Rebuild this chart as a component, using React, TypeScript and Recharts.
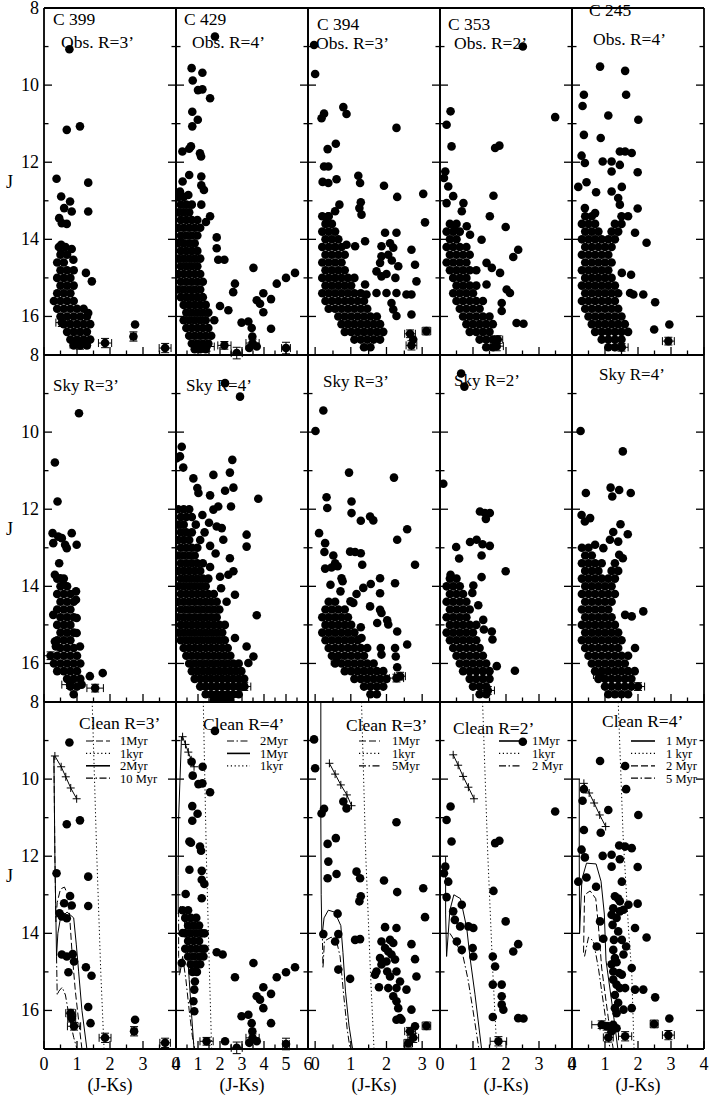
import React from 'react';
import { ScatterChart, Scatter, XAxis, YAxis, ErrorBar } from 'recharts';

type Pt = [number, number]; // [J-Ks, J]
type Row = [number, number[]]; // [J, list of J-Ks]
type ErrPt = [number, number, number, number]; // [J-Ks, J, err(J-Ks), err(J)]

const FONT = '"Liberation Serif", "Times New Roman", Times, serif';

// ---------------- axes ----------------
const jTicks = [8, 9, 10, 11, 12, 13, 14, 15, 16, 17];
const jTickLabels = [8, 10, 12, 14, 16];
const xTicksA = [0, 0.5, 1, 1.5, 2, 2.5, 3, 3.5, 4];
const xTicksB = [0, 0.5, 1, 1.5, 2, 2.5, 3, 3.5, 4, 4.5, 5, 5.5, 6];
const xTicksC = [0, 0.5, 1, 1.5, 2, 2.5, 3, 3.5];
const xLabelsA = [0, 1, 2, 3, 4];
const xLabelsB = [0, 1, 2, 3, 4, 5, 6];
const xLabelsC = [0, 1, 2, 3];
const xDomainA: [number, number] = [0, 4];
const xDomainB: [number, number] = [0, 6];
const xDomainC: [number, number] = [-0.2, 3.5];

// ---------------- row 1 : observed ----------------
const c399ObsPts: Pt[] = [[0.77,9.07],[0.69,11.16],[1.09,11.07],[0.38,12.43],[1.34,12.53],[0.52,12.89],[0.79,13.02],[0.61,13.19],[0.84,13.28],[1.34,13.28],[0.46,13.45],[0.54,13.58],[0.69,13.6],[0.52,14.14],[0.52,14.36],[0.84,14.25],[0.89,14.53],[1.27,14.87],[1.45,15.09],[1.34,15.91],[2.76,16.21]];
const c399ObsRows: Row[] = [[14.2,[0.45,0.65]],[14.4,[0.5,0.7]],[14.6,[0.4,0.6]],[14.8,[0.5,0.7,0.9]],[15.0,[0.4,0.6,0.8]],[15.2,[0.5,0.7,0.9]],[15.4,[0.4,0.6,0.8]],[15.6,[0.3,0.5,0.7,0.9]],[15.8,[0.4,0.6,0.8,1.0,1.2]],[16.0,[0.5,0.7,0.9,1.1,1.3]],[16.2,[0.6,0.8,1.0,1.2,1.4]],[16.4,[0.7,0.9,1.1,1.3]],[16.6,[0.8,1.0,1.2,1.4]],[16.75,[0.9,1.1,1.3]]];
const c399ObsErr: ErrPt[] = [[1.09,16.73,0.3,0.12],[1.85,16.69,0.2,0.12],[3.67,16.82,0.18,0.12],[0.54,16.16,0.18,0.1],[2.71,16.52,0.08,0.12]];

const c429ObsPts: Pt[] = [[1.77,8.74],[0.71,9.56],[1.2,9.68],[0.76,9.88],[1.2,10.11],[1.0,10.13],[1.55,10.34],[0.74,10.69],[0.99,10.9],[0.74,11.07],[0.29,11.72],[0.68,11.59],[0.6,11.65],[1.09,11.77],[1.14,11.85],[0.3,12.5],[0.6,12.33],[1.15,12.37],[1.15,12.6],[1.27,12.72],[0.18,12.76],[0.56,12.85],[1.15,13.1],[1.55,13.4],[1.36,13.55],[1.85,13.95],[1.85,14.23],[1.92,14.53],[2.2,14.53],[3.52,14.74],[5.41,14.87],[5.0,15.0],[4.58,15.15],[2.68,15.15],[2.6,15.37],[3.97,15.4],[3.67,15.58],[3.82,15.67],[4.32,15.55],[3.97,15.89],[2.0,15.73],[2.38,15.84],[2.98,16.16],[3.29,16.13],[3.44,16.3],[4.32,16.32],[1.74,16.1],[3.47,16.52],[3.67,16.78],[3.33,16.82]];
const c429ObsRows: Row[] = [[12.9,[0.1,0.35]],[13.1,[0.22,0.47,0.72]],[13.3,[0.1,0.35,0.6]],[13.5,[0.22,0.47,0.72,0.97]],[13.7,[0.1,0.35,0.6,0.85,1.1]],[13.9,[0.22,0.47,0.72,0.97]],[14.1,[0.1,0.35,0.6,0.85]],[14.3,[0.22,0.47,0.72,0.97]],[14.5,[0.1,0.35,0.6,0.85,1.1]],[14.7,[0.22,0.47,0.72,0.97]],[14.9,[0.1,0.35,0.6,0.85,1.1]],[15.1,[0.22,0.47,0.72,0.97,1.22]],[15.3,[0.1,0.35,0.6,0.85,1.1]],[15.5,[0.22,0.47,0.72,0.97,1.22]],[15.7,[0.35,0.6,0.85,1.1,1.35]],[15.9,[0.47,0.72,0.97,1.22,1.47]],[16.1,[0.35,0.6,0.85,1.1,1.35]],[16.3,[0.47,0.72,0.97,1.22,1.47]],[16.5,[0.6,0.85,1.1,1.35,1.6]],[16.7,[0.72,0.97,1.22,1.47]],[16.85,[0.85,1.1,1.35]]];
const c429ObsErr: ErrPt[] = [[2.76,16.95,0.25,0.15],[5.0,16.82,0.2,0.15],[3.48,16.69,0.3,0.1],[1.39,16.78,0.35,0.12],[2.2,16.75,0.3,0.1]];

const c394ObsPts: Pt[] = [[-0.03,8.96],[0.0,9.71],[0.18,10.86],[0.25,10.74],[0.79,10.57],[0.88,10.75],[2.28,11.11],[0.58,11.52],[0.35,11.66],[0.25,12.11],[0.37,12.11],[0.21,12.51],[0.37,12.54],[0.6,12.44],[1.21,12.35],[1.26,12.54],[1.93,12.61],[2.3,12.9],[3.03,12.82],[3.08,13.56],[1.28,13.04],[1.24,13.19],[1.3,13.36],[0.68,13.1],[0.56,13.27],[0.37,13.4],[0.32,13.58],[1.96,13.83],[2.28,13.83],[2.1,14.1],[2.19,14.22],[1.86,14.18],[2.7,14.27],[2.8,14.66],[2.84,15.09],[1.82,14.61],[1.86,14.44],[2.33,14.7],[1.72,14.83],[1.86,14.96],[1.4,15.17],[1.44,15.43],[1.72,15.39],[2.0,15.39],[2.28,15.39],[2.56,15.43],[2.7,15.43],[2.14,15.65],[2.19,15.82],[2.28,15.99],[2.7,15.95],[0.88,14.14],[1.12,14.18],[1.4,14.05],[2.75,16.6],[2.05,14.4],[2.15,14.55],[2.0,14.9],[2.25,15.0]];
const c394ObsRows: Row[] = [[13.4,[0.2,0.38]],[13.6,[0.29,0.47]],[13.8,[0.2,0.38,0.56]],[14.0,[0.29,0.47,0.65]],[14.2,[0.2,0.38,0.56,0.74]],[14.4,[0.29,0.47,0.65,0.83]],[14.6,[0.2,0.38,0.56,0.74]],[14.8,[0.29,0.47,0.65,0.83]],[15.0,[0.2,0.38,0.56,0.74,0.92,1.1]],[15.2,[0.29,0.47,0.65,0.83,1.01]],[15.4,[0.2,0.38,0.56,0.74,0.92,1.1,1.28]],[15.6,[0.29,0.47,0.65,0.83,1.01,1.19,1.37]],[15.8,[0.38,0.56,0.74,0.92,1.1,1.28,1.46]],[16.0,[0.65,0.83,1.01,1.19,1.37,1.55,1.73]],[16.2,[0.74,0.92,1.1,1.28,1.46,1.64,1.82]],[16.4,[0.83,1.01,1.19,1.37,1.55,1.73,1.91]],[16.6,[1.1,1.28,1.46,1.64,1.82]],[16.8,[1.37,1.55]]];
const c394ObsErr: ErrPt[] = [[2.7,16.75,0.15,0.12],[2.66,16.45,0.15,0.1],[3.12,16.38,0.12,0.1]];

const c353ObsPts: Pt[] = [[2.51,9.0],[3.49,10.83],[0.32,10.68],[0.2,11.03],[0.35,11.59],[1.67,11.63],[1.8,11.57],[0.16,12.24],[0.12,12.41],[0.25,12.63],[0.4,12.88],[0.2,13.06],[0.71,13.06],[0.66,13.27],[1.62,12.87],[1.51,13.4],[1.99,13.68],[0.45,13.75],[0.81,13.66],[0.91,13.88],[1.26,14.01],[2.37,14.27],[2.22,14.46],[1.41,14.61],[1.57,14.74],[1.82,14.87],[1.41,15.17],[2.02,15.3],[2.12,15.39],[1.87,15.65],[1.87,15.86],[2.32,16.17],[2.53,16.19]];
const c353ObsRows: Row[] = [[13.6,[0.3,0.5]],[13.8,[0.2,0.4,0.6]],[14.0,[0.3,0.5]],[14.2,[0.2,0.4,0.6,0.8]],[14.4,[0.3,0.5,0.7,0.9]],[14.6,[0.2,0.4,0.6,0.8]],[14.8,[0.3,0.5,0.7,0.9,1.1]],[15.0,[0.4,0.6,0.8]],[15.2,[0.5,0.7,0.9,1.1]],[15.4,[0.4,0.6,0.8,1.0]],[15.6,[0.5,0.7,0.9,1.1,1.3]],[15.8,[0.6,0.8,1.0,1.2]],[16.0,[0.7,0.9,1.1,1.3,1.5]],[16.2,[0.8,1.0,1.2,1.4,1.6]],[16.4,[0.9,1.1,1.3,1.5]],[16.6,[1.2,1.4,1.6]],[16.8,[1.4,1.6]]];
const c353ObsErr: ErrPt[] = [[1.72,16.77,0.2,0.12],[1.75,16.6,0.15,0.1]];

const c245ObsPts: Pt[] = [[0.85,9.52],[1.61,9.63],[0.36,10.25],[1.64,10.25],[0.32,10.54],[1.1,10.79],[2.01,10.9],[0.36,11.29],[0.87,11.37],[0.29,11.83],[0.39,12.02],[0.93,11.98],[1.2,11.98],[1.45,12.07],[1.45,11.72],[1.61,11.72],[1.81,11.76],[1.2,12.24],[1.99,12.26],[0.19,12.64],[0.44,12.52],[0.73,12.78],[1.2,12.76],[1.51,12.64],[1.4,12.93],[1.45,13.1],[1.99,13.2],[0.39,13.19],[0.7,13.32],[1.91,13.83],[2.26,14.09],[2.52,15.63],[2.49,16.34],[2.95,16.21],[2.16,15.43],[1.76,15.39],[1.86,15.43],[1.51,14.87],[1.79,14.92]];
const c245ObsRows: Row[] = [[13.4,[0.4,0.6,1.5,1.7]],[13.6,[0.3,0.5,0.7,1.3,1.5]],[13.8,[0.4,0.6,0.8,1.2,1.4]],[14.0,[0.3,0.5,0.7,0.9,1.1,1.3]],[14.2,[0.4,0.6,0.8,1.0,1.2]],[14.4,[0.3,0.5,0.7,0.9,1.1]],[14.6,[0.4,0.6,0.8,1.0,1.2]],[14.8,[0.3,0.5,0.7,0.9,1.1]],[15.0,[0.4,0.6,0.8,1.0,1.2]],[15.2,[0.3,0.5,0.7,0.9,1.1,1.3]],[15.4,[0.4,0.6,0.8,1.0,1.2,1.4]],[15.6,[0.3,0.5,0.7,0.9,1.1,1.3]],[15.8,[0.4,0.6,0.8,1.0,1.2,1.4]],[16.0,[0.5,0.7,0.9,1.1,1.3,1.5]],[16.2,[0.6,0.8,1.0,1.2,1.4,1.6]],[16.4,[0.7,0.9,1.1,1.3,1.5,1.7]],[16.6,[0.9,1.1,1.3,1.5]],[16.8,[1.1,1.3,1.5]]];
const c245ObsErr: ErrPt[] = [[2.92,16.64,0.18,0.1],[1.5,16.8,0.2,0.1]];

// ---------------- row 2 : sky ----------------
const sky399Pts: Pt[] = [[1.06,9.51],[0.33,10.79],[0.41,11.8],[0.26,12.62],[0.28,12.88],[0.43,12.71],[0.54,12.75],[0.64,12.92],[0.69,13.01],[0.84,12.62],[0.99,12.92],[0.46,13.4],[0.33,13.7],[0.49,13.79],[0.59,13.96],[0.28,14.74],[0.97,14.13],[0.97,14.35],[0.99,14.82],[0.99,15.21],[1.09,15.56],[0.33,15.43],[0.36,15.56],[1.39,16.33],[1.78,16.25],[1.14,16.55]];
const sky399Rows: Row[] = [[13.8,[0.4,0.6]],[14.0,[0.5,0.7]],[14.2,[0.4,0.6,0.8]],[14.4,[0.5,0.7,0.9]],[14.6,[0.4,0.6,0.8]],[14.8,[0.5,0.7,0.9]],[15.0,[0.4,0.6,0.8]],[15.2,[0.5,0.7,0.9]],[15.4,[0.4,0.6,0.8]],[15.6,[0.5,0.7,0.9]],[15.8,[0.4,0.6,0.8,1.0]],[16.0,[0.3,0.5,0.7,0.9,1.1]],[16.2,[0.4,0.6,0.8,1.0]],[16.4,[0.7,0.9,1.1]],[16.6,[0.8,1.0]],[16.8,[0.9]]];
const sky399Err: ErrPt[] = [[0.79,16.55,0.25,0.1],[1.55,16.64,0.25,0.1],[0.2,15.8,0.2,0.1]];

const sky429Pts: Pt[] = [[2.23,8.73],[2.91,9.08],[0.26,10.38],[0.03,10.68],[0.18,10.63],[0.33,10.92],[2.56,10.72],[1.7,11.11],[2.45,11.05],[0.79,11.2],[0.97,11.45],[1.02,11.58],[1.55,11.64],[2.23,11.52],[2.61,11.44],[3.74,11.73],[2.5,11.93],[1.7,12.01],[1.92,11.93],[3.21,12.66],[3.21,12.97],[2.08,12.49],[2.15,12.79],[1.85,12.45],[2.45,13.27],[2.61,13.61],[2.38,13.7],[2.68,14.22],[3.67,14.75],[3.21,15.56],[3.52,15.82],[3.29,15.99],[2.68,15.34],[1.2,12.15],[1.5,12.35],[1.3,12.6],[1.55,12.95],[1.8,13.15],[1.55,13.5],[2.0,13.75],[2.05,14.05],[2.3,14.4]];
const sky429Rows: Row[] = [[12.0,[0.1,0.35,0.6]],[12.2,[0.22,0.47,0.72]],[12.4,[0.1,0.35,0.9]],[12.6,[0.22,0.47,0.72]],[12.8,[0.1,0.35,0.6,1.1]],[13.0,[0.22,0.47,0.72,0.97]],[13.2,[0.1,0.35,0.6,0.85]],[13.4,[0.22,0.47,0.72,0.97,1.22]],[13.6,[0.1,0.35,0.6,0.85,1.1]],[13.8,[0.22,0.47,0.72,0.97,1.22,1.47]],[14.0,[0.1,0.35,0.6,0.85,1.1,1.35]],[14.2,[0.22,0.47,0.72,0.97,1.22,1.47,1.72]],[14.4,[0.1,0.35,0.6,0.85,1.1,1.35,1.6,1.85]],[14.6,[0.22,0.47,0.72,0.97,1.22,1.47,1.72,1.97]],[14.8,[0.1,0.35,0.6,0.85,1.1,1.35,1.6,1.85]],[15.0,[0.22,0.47,0.72,0.97,1.22,1.47,1.72,1.97,2.22]],[15.2,[0.1,0.35,0.6,0.85,1.1,1.35,1.6,1.85,2.1]],[15.4,[0.22,0.47,0.72,0.97,1.22,1.47,1.72,1.97,2.22]],[15.6,[0.35,0.6,0.85,1.1,1.35,1.6,1.85,2.1,2.35]],[15.8,[0.47,0.72,0.97,1.22,1.47,1.72,1.97,2.22,2.47]],[16.0,[0.6,0.85,1.1,1.35,1.6,1.85,2.1,2.35,2.6,2.85]],[16.2,[0.72,0.97,1.22,1.47,1.72,1.97,2.22,2.47,2.72,2.97]],[16.4,[0.85,1.1,1.35,1.6,1.85,2.1,2.35,2.6,2.85,3.1]],[16.6,[1.1,1.35,1.6,1.85,2.1,2.35,2.6,2.85,3.1]],[16.8,[1.35,1.6,1.85,2.1,2.35,2.6,2.85]],[16.95,[1.72,1.97,2.22,2.47]]];
const sky429Err: ErrPt[] = [[3.1,16.6,0.3,0.1]];

const sky394Pts: Pt[] = [[0.23,9.44],[0.01,9.97],[0.95,11.05],[2.21,11.18],[0.32,11.69],[0.34,11.97],[1.02,11.8],[1.02,12.1],[1.28,12.3],[1.54,12.19],[1.63,12.29],[2.58,12.52],[2.3,12.79],[0.11,12.62],[0.28,12.88],[0.26,13.11],[0.51,13.2],[0.56,13.4],[0.63,13.48],[0.98,13.1],[1.12,13.11],[1.28,13.14],[1.32,13.44],[2.8,13.44],[0.28,13.54],[0.46,13.51],[0.74,13.79],[0.77,13.87],[0.43,13.96],[0.71,14.13],[1.82,13.79],[1.56,13.94],[1.35,14.04],[1.16,14.2],[2.24,13.92],[1.82,14.18],[0.99,14.39],[1.07,14.43],[1.54,14.52],[1.82,14.61],[1.86,14.69],[1.74,14.95],[2.02,14.88],[2.05,14.99],[1.28,15.06],[2.3,15.17],[1.21,15.38],[1.3,15.34],[1.84,15.6],[1.86,15.77],[2.24,15.6],[2.26,15.82],[2.58,15.51],[2.3,16.1]];
const sky394Rows: Row[] = [[14.4,[0.38,0.56]],[14.6,[0.29,0.47,0.65,0.83]],[14.8,[0.2,0.38,0.56,0.74,0.92]],[15.0,[0.29,0.47,0.65,0.83,1.01]],[15.2,[0.2,0.38,0.56,0.74,0.92,1.1]],[15.4,[0.29,0.47,0.65,0.83,1.01,1.19]],[15.6,[0.38,0.56,0.74,0.92,1.1,1.28,1.46]],[15.8,[0.47,0.65,0.83,1.01,1.19,1.37]],[16.0,[0.56,0.74,0.92,1.1,1.28,1.46,1.64]],[16.2,[0.83,1.01,1.19,1.37,1.55,1.73,1.91]],[16.4,[1.1,1.28,1.46,1.64,1.82,2.0]],[16.6,[1.37,1.55,1.73,1.91]],[16.8,[1.55,1.73]]];
const sky394Err: ErrPt[] = [[2.28,16.38,0.2,0.1],[2.38,16.33,0.15,0.1],[0.6,15.95,0.15,0.1]];

const sky353Pts: Pt[] = [[0.64,8.48],[0.74,8.82],[0.1,11.34],[1.21,12.06],[1.36,12.1],[1.51,12.1],[1.39,12.25],[0.49,12.98],[0.58,13.28],[0.91,12.85],[1.11,12.79],[1.29,12.91],[1.51,12.95],[1.26,13.2],[1.99,13.61],[1.26,13.76],[0.32,13.7],[1.01,13.98],[0.98,14.17],[1.16,14.49],[1.31,14.87],[1.33,15.12],[1.57,15.17],[1.59,15.38],[1.72,16.07],[2.27,16.19]];
const sky353Rows: Row[] = [[13.8,[0.3,0.5]],[14.0,[0.2,0.4,0.6]],[14.2,[0.3,0.5,0.7]],[14.4,[0.2,0.4,0.6,0.8]],[14.6,[0.3,0.5,0.7,0.9]],[14.8,[0.2,0.4,0.6,0.8]],[15.0,[0.3,0.5,0.7,0.9,1.1]],[15.2,[0.2,0.4,0.6,0.8,1.0]],[15.4,[0.3,0.5,0.7,0.9,1.1]],[15.6,[0.4,0.6,0.8,1.0,1.2]],[15.8,[0.5,0.7,0.9,1.1,1.3]],[16.0,[0.6,0.8,1.0,1.2,1.4]],[16.2,[0.7,0.9,1.1,1.3,1.5]],[16.4,[0.9,1.1,1.3,1.5]],[16.6,[1.0,1.2,1.4]],[16.8,[1.2,1.4]]];
const sky353Err: ErrPt[] = [[1.45,16.7,0.2,0.1]];

const sky245Pts: Pt[] = [[0.26,9.97],[1.54,10.5],[0.42,11.58],[1.17,11.44],[1.22,11.67],[1.43,11.5],[1.78,11.58],[0.29,12.15],[0.39,12.32],[0.55,12.23],[1.47,12.39],[1.25,12.59],[1.15,12.79],[1.4,12.84],[1.69,12.65],[0.7,12.92],[0.95,13.01],[1.43,13.18],[1.54,13.27],[2.16,14.65],[1.61,14.74],[1.81,14.78],[1.91,15.6]];
const sky245Rows: Row[] = [[13.0,[0.3,0.5]],[13.2,[0.4,0.6]],[13.4,[0.3,0.5,0.7,0.9,1.3]],[13.6,[0.4,0.6,0.8,1.2,1.4]],[13.8,[0.3,0.5,0.7,0.9,1.1,1.3]],[14.0,[0.4,0.6,0.8,1.0,1.2]],[14.2,[0.3,0.5,0.7,0.9,1.1,1.3]],[14.4,[0.4,0.6,0.8,1.0,1.2]],[14.6,[0.3,0.5,0.7,0.9,1.1]],[14.8,[0.4,0.6,0.8,1.0,1.2]],[15.0,[0.3,0.5,0.7,0.9,1.1,1.3]],[15.2,[0.4,0.6,0.8,1.0,1.2,1.4]],[15.4,[0.3,0.5,0.7,0.9,1.1,1.3,1.5]],[15.6,[0.4,0.6,0.8,1.0,1.2,1.4]],[15.8,[0.5,0.7,0.9,1.1,1.3,1.5,1.7]],[16.0,[0.6,0.8,1.0,1.2,1.4,1.6]],[16.2,[0.7,0.9,1.1,1.3,1.5,1.7,1.9]],[16.4,[0.8,1.0,1.2,1.4,1.6,1.8]],[16.6,[1.0,1.2,1.4,1.6,1.8]],[16.8,[1.1,1.3,1.5,1.7]]];
const sky245Err: ErrPt[] = [[2.0,16.6,0.2,0.1],[0.85,16.3,0.2,0.1]];

// ---------------- row 3 : cleaned ----------------
const cl399Pts: Pt[] = [[0.77,9.05],[0.69,11.17],[1.09,11.07],[0.38,12.44],[1.34,12.53],[1.34,13.29],[0.79,13.03],[0.61,13.22],[0.84,13.28],[0.47,13.48],[0.54,13.56],[0.69,13.61],[0.54,14.55],[0.69,14.6],[0.87,14.54],[0.91,14.73],[1.27,14.88],[1.44,15.1],[0.74,15.01],[1.34,15.91],[1.41,16.33],[2.76,16.24]];
const cl399Err: ErrPt[] = [[0.81,16.07,0.15,0.1],[0.84,16.2,0.12,0.1],[0.91,16.41,0.2,0.1],[1.85,16.71,0.18,0.12],[2.73,16.54,0.08,0.12],[3.67,16.84,0.16,0.12]];
const cl429Pts: Pt[] = [[1.77,8.75],[0.71,9.55],[1.21,9.68],[0.76,9.91],[1.02,10.13],[1.2,10.11],[1.55,10.34],[0.74,10.7],[0.98,10.9],[0.74,11.08],[0.61,11.62],[0.68,11.65],[1.09,11.75],[1.14,11.86],[0.61,12.35],[1.17,12.38],[1.17,12.61],[1.29,12.72],[0.44,12.98],[1.17,13.09],[0.3,13.99],[0.26,14.77],[1.85,14.49],[2.12,14.55],[3.52,14.77],[2.68,15.14],[3.97,15.4],[4.32,15.57],[3.67,15.63],[3.82,15.72],[3.97,15.94],[4.58,15.14],[5.0,15.01],[5.41,14.88],[2.98,16.15],[3.29,16.11],[3.44,16.33],[3.47,16.54],[3.67,16.8],[3.33,16.84],[4.32,16.33],[0.79,14.99],[0.86,15.25],[0.83,15.46],[0.79,15.76],[0.83,16.02],[2.23,16.8]];
const cl429Rows: Row[] = [[13.4,[0.3,0.55]],[13.6,[0.42,0.67,0.92]],[13.8,[0.55,0.8,1.05]],[14.0,[0.42,0.67,0.92,1.17,1.3]],[14.2,[0.55,0.8,1.05]],[14.4,[0.42,0.67,0.92,1.17,1.3]],[14.6,[0.55,0.8,1.05,1.25]],[14.8,[0.67,0.92,1.1]],[15.0,[0.75,0.95]]];
const cl429Err: ErrPt[] = [[2.76,16.97,0.25,0.15],[5.0,16.87,0.15,0.15],[3.48,16.71,0.3,0.1],[1.39,16.8,0.3,0.1]];
const cl394Pts: Pt[] = [[-0.03,8.97],[0.0,9.72],[0.18,10.89],[0.25,10.77],[0.79,10.58],[0.88,10.76],[2.28,11.12],[0.58,11.53],[0.35,11.68],[0.37,12.14],[0.35,12.57],[0.6,12.46],[1.16,12.4],[1.26,12.57],[1.93,12.63],[3.03,12.83],[2.3,12.93],[1.28,13.04],[1.24,13.17],[0.63,13.49],[3.08,13.58],[0.23,14.02],[0.65,14.02],[0.56,14.21],[1.12,14.17],[1.26,14.15],[1.96,13.84],[2.28,13.86],[1.86,14.21],[2.1,14.17],[2.19,14.25],[2.7,14.28],[1.96,14.38],[2.05,14.47],[2.14,14.55],[2.0,14.73],[2.24,14.68],[2.8,14.67],[1.82,14.64],[1.86,14.81],[1.72,14.99],[0.65,14.94],[0.98,15.18],[2.84,15.12],[2.02,14.99],[2.1,15.12],[2.28,14.99],[2.38,15.25],[1.68,15.07],[1.79,15.4],[2.05,15.42],[2.28,15.42],[2.56,15.46],[2.19,15.63],[2.28,15.76],[2.7,15.98],[2.33,15.94],[2.38,16.2],[2.28,16.24],[2.42,16.24],[2.8,16.41]];
const cl394Err: ErrPt[] = [[2.66,16.54,0.15,0.1],[2.75,16.71,0.15,0.12],[2.61,16.85,0.12,0.1],[3.12,16.4,0.12,0.1]];
const cl353Pts: Pt[] = [[2.51,9.03],[3.49,10.84],[0.32,10.71],[0.2,11.06],[0.35,11.62],[1.67,11.66],[1.8,11.6],[0.16,12.27],[0.12,12.44],[0.25,12.66],[0.2,13.06],[0.66,13.26],[1.62,12.9],[0.4,13.43],[0.45,13.65],[0.61,13.82],[0.86,13.82],[1.01,13.86],[0.51,14.21],[0.66,14.43],[0.99,14.38],[1.01,14.6],[1.99,13.69],[1.6,14.6],[1.67,14.86],[2.22,14.47],[2.37,14.28],[1.6,15.33],[1.87,15.33],[1.87,15.63],[1.87,15.85],[1.92,15.98],[1.6,16.17],[2.37,16.2],[2.53,16.21]];
const cl353Err: ErrPt[] = [[1.77,16.8,0.25,0.12]];
const cl245Pts: Pt[] = [[0.85,9.53],[1.61,9.66],[0.36,10.26],[1.64,10.26],[0.32,10.56],[1.1,10.8],[2.01,10.93],[0.36,11.32],[0.87,11.39],[0.29,11.83],[0.39,12.03],[0.93,11.99],[1.2,11.96],[1.45,12.08],[1.43,11.72],[1.61,11.75],[1.81,11.79],[1.2,12.27],[1.99,12.28],[0.19,12.66],[0.44,12.55],[0.73,12.79],[1.51,12.66],[1.3,13.04],[1.4,13.1],[1.45,13.17],[1.99,13.23],[1.25,13.35],[1.2,13.52],[1.35,13.6],[1.45,13.43],[1.56,13.39],[1.71,13.26],[1.91,13.86],[0.85,13.69],[1.23,13.78],[1.4,13.95],[1.27,14.17],[1.51,14.17],[1.64,14.34],[1.56,14.55],[2.26,14.11],[0.75,14.34],[0.95,14.14],[1.25,14.43],[1.3,14.64],[1.81,14.9],[1.25,14.99],[1.43,15.03],[1.51,15.07],[1.25,15.2],[1.35,15.33],[1.45,15.42],[1.61,15.42],[1.91,15.46],[2.16,15.46],[2.52,15.66],[1.3,15.94],[1.35,16.07],[1.56,15.98],[1.81,15.94],[1.25,16.37],[1.2,16.54],[1.35,16.46],[2.95,16.21],[1.3,15.6],[1.4,15.8],[1.2,14.8],[1.35,14.75]];
const cl245Err: ErrPt[] = [[0.9,16.37,0.3,0.1],[1.05,16.41,0.2,0.1],[1.61,16.67,0.2,0.12],[2.92,16.64,0.18,0.12],[2.49,16.35,0.12,0.1],[1.1,16.7,0.15,0.12]];

// ---------------- row 3 : isochrones and reddening vectors ----------------
const cl399Vector: Pt[] = [[0.33,9.4],[0.52,9.68],[0.66,9.94],[0.81,10.23],[0.99,10.51]];
const cl399Iso1Myr: Pt[] = [[0.3,9.4],[0.33,12.0],[0.36,13.7],[0.4,13.2],[0.5,12.85],[0.62,12.8],[0.72,13.0],[0.78,13.6],[0.85,14.5],[0.95,15.5],[1.08,16.5],[1.15,17.0]];
const cl399Iso1kyr: Pt[] = [[1.46,8.0],[1.6,12.0],[1.72,15.0],[1.82,17.0]];
const cl399Iso2Myr: Pt[] = [[0.3,9.4],[0.33,12.0],[0.38,14.6],[0.42,14.0],[0.5,13.6],[0.7,13.45],[0.9,13.6],[0.98,14.3],[1.05,15.0],[1.15,16.0],[1.3,17.0]];
const cl399Iso10Myr: Pt[] = [[0.38,14.6],[0.4,15.6],[0.45,15.5],[0.55,15.4],[0.65,15.6],[0.75,16.1],[0.9,16.7],[1.0,17.0]];

const cl429Vector: Pt[] = [[0.3,8.9],[0.43,9.1],[0.56,9.3],[0.69,9.5],[0.82,9.68]];
const cl429Iso2Myr: Pt[] = [[0.12,13.4],[0.12,14.6],[0.15,15.1],[0.22,14.9],[0.3,14.6],[0.45,15.2],[0.6,16.0],[0.75,16.7],[0.85,17.0]];
const cl429Iso1Myr: Pt[] = [[0.25,8.9],[0.12,11.0],[0.1,12.5],[0.1,13.5],[0.2,13.3],[0.35,13.5],[0.5,14.3],[0.6,15.2],[0.72,16.2],[0.82,17.0]];
const cl429Iso1kyr: Pt[] = [[1.24,8.0],[1.38,12.0],[1.52,15.0],[1.62,17.0]];

const cl394Vector: Pt[] = [[0.4,9.59],[0.56,9.87],[0.72,10.15],[0.89,10.41],[1.02,10.69]];
const cl394Iso1Myr: Pt[] = [[0.16,8.0],[0.16,11.0],[0.17,13.0],[0.19,14.1],[0.25,13.6],[0.37,13.4],[0.55,13.45],[0.72,13.8],[0.78,14.5],[0.85,15.5],[0.95,16.4],[1.05,17.0]];
const cl394Iso1kyr: Pt[] = [[1.3,8.0],[1.42,12.0],[1.55,15.0],[1.65,17.0]];
const cl394Iso5Myr: Pt[] = [[0.2,13.9],[0.22,14.9],[0.26,14.2],[0.45,14.1],[0.6,14.2],[0.7,14.6],[0.8,15.6],[0.9,16.5],[0.98,17.0]];

const cl353Vector: Pt[] = [[0.4,9.37],[0.55,9.64],[0.7,9.93],[0.86,10.21],[1.03,10.51]];
const cl353Iso1Myr: Pt[] = [[0.17,12.0],[0.17,13.5],[0.2,14.6],[0.3,13.4],[0.42,13.0],[0.62,13.1],[0.81,13.86],[0.91,14.63],[1.06,15.58],[1.26,17.0]];
const cl353Iso1kyr: Pt[] = [[1.29,8.0],[1.45,12.0],[1.6,15.0],[1.72,17.0]];
const cl353Iso2Myr: Pt[] = [[0.3,14.0],[0.45,14.2],[0.7,14.6],[0.85,15.2],[1.0,16.0],[1.18,17.0]];

const cl245Vector: Pt[] = [[0.36,10.11],[0.52,10.36],[0.67,10.62],[0.84,10.93],[1.02,11.23]];
const cl245Iso1Myr: Pt[] = [[0.22,10.0],[0.22,12.0],[0.23,14.0],[0.3,12.6],[0.44,12.18],[0.73,12.2],[0.88,12.65],[0.98,13.5],[1.03,14.7],[1.24,16.0],[1.39,17.0]];
const cl245Iso1kyr: Pt[] = [[1.4,8.0],[1.55,11.5],[1.72,14.0],[1.81,15.0],[1.88,17.0]];
const cl245Iso2Myr: Pt[] = [[0.35,14.5],[0.38,13.0],[0.55,12.9],[0.72,13.1],[0.8,13.8],[0.9,14.9],[1.1,16.2],[1.25,17.0]];
const cl245Iso5Myr: Pt[] = [[0.38,14.6],[0.5,14.1],[0.65,14.2],[0.8,14.9],[0.95,15.8],[1.15,17.0]];

// ---------------- layout / style ----------------
const COL_X = [44, 176, 308, 440, 572];
const COL_W = 132;
const ROW_Y = [8, 355, 702];
const ROW_H = 347;
const X_DOMAINS = [xDomainA, xDomainB, xDomainC, xDomainA, xDomainA];
const X_TICKS = [xTicksA, xTicksB, xTicksC, xTicksA, xTicksA];
const X_LABELS = [xLabelsA, xLabelsB, xLabelsC, xLabelsA, xLabelsA];
const DASH: Record<string, string | undefined> = {
  solid: undefined,
  dashed: '7 3',
  dotted: '1.2 2.6',
  dashdot: '7 2.5 1.5 2.5',
};
const AXIS = { stroke: '#000', strokeWidth: 1.8 };

interface Iso { name: string; style: string; pts: Pt[] }
interface PanelCfg {
  row: number; col: number; pts: Pt[]; rows: Row[]; err: ErrPt[];
  vector?: Pt[]; isos?: Iso[]; legend?: [string, string][];
  title: [string, number, number][];
}

const panels: PanelCfg[] = [
  { row: 0, col: 0, pts: c399ObsPts, rows: c399ObsRows, err: c399ObsErr, title: [['C 399', 53, 25], ['Obs. R=3\u2019', 61, 48]] },
  { row: 0, col: 1, pts: c429ObsPts, rows: c429ObsRows, err: c429ObsErr, title: [['C 429', 184, 25], ['Obs. R=4\u2019', 192, 48]] },
  { row: 0, col: 2, pts: c394ObsPts, rows: c394ObsRows, err: c394ObsErr, title: [['C 394', 317, 30], ['Obs. R=3\u2019', 316, 48.5]] },
  { row: 0, col: 3, pts: c353ObsPts, rows: c353ObsRows, err: c353ObsErr, title: [['C 353', 448, 30], ['Obs. R=2\u2019', 454, 48.5]] },
  { row: 0, col: 4, pts: c245ObsPts, rows: c245ObsRows, err: c245ObsErr, title: [['C 245', 589, 16], ['Obs. R=4\u2019', 593, 45]] },
  { row: 1, col: 0, pts: sky399Pts, rows: sky399Rows, err: sky399Err, title: [['Sky R=3\u2019', 53, 391]] },
  { row: 1, col: 1, pts: sky429Pts, rows: sky429Rows, err: sky429Err, title: [['Sky R=4\u2019', 186, 391]] },
  { row: 1, col: 2, pts: sky394Pts, rows: sky394Rows, err: sky394Err, title: [['Sky R=3\u2019', 323, 387]] },
  { row: 1, col: 3, pts: sky353Pts, rows: sky353Rows, err: sky353Err, title: [['Sky R=2\u2019', 454, 386]] },
  { row: 1, col: 4, pts: sky245Pts, rows: sky245Rows, err: sky245Err, title: [['Sky R=4\u2019', 599, 380]] },
  {
    row: 2, col: 0, pts: cl399Pts, rows: [], err: cl399Err, vector: cl399Vector, title: [['Clean R=3\u2019', 79, 729]],
    isos: [{ name: '1Myr', style: 'dashed', pts: cl399Iso1Myr }, { name: '1kyr', style: 'dotted', pts: cl399Iso1kyr }, { name: '2Myr', style: 'solid', pts: cl399Iso2Myr }, { name: '10 Myr', style: 'dashdot', pts: cl399Iso10Myr }],
    legend: [['1Myr', 'dashed'], ['1kyr', 'dotted'], ['2Myr', 'solid'], ['10 Myr', 'dashdot']],
  },
  {
    row: 2, col: 1, pts: cl429Pts, rows: cl429Rows, err: cl429Err, vector: cl429Vector, title: [['Clean R=4\u2019', 203, 730]],
    isos: [{ name: '2Myr', style: 'dashdot', pts: cl429Iso2Myr }, { name: '1Myr', style: 'solid', pts: cl429Iso1Myr }, { name: '1kyr', style: 'dotted', pts: cl429Iso1kyr }],
    legend: [['2Myr', 'dashdot'], ['1Myr', 'solid'], ['1kyr', 'dotted']],
  },
  {
    row: 2, col: 2, pts: cl394Pts, rows: [], err: cl394Err, vector: cl394Vector, title: [['Clean R=3\u2019', 346, 731]],
    isos: [{ name: '1Myr', style: 'solid', pts: cl394Iso1Myr }, { name: '1kyr', style: 'dotted', pts: cl394Iso1kyr }, { name: '5Myr', style: 'dashdot', pts: cl394Iso5Myr }],
    legend: [['1Myr', 'dashed'], ['1kyr', 'dotted'], ['5Myr', 'dashdot']],
  },
  {
    row: 2, col: 3, pts: cl353Pts, rows: [], err: cl353Err, vector: cl353Vector, title: [['Clean R=2\u2019', 453, 734]],
    isos: [{ name: '1Myr', style: 'solid', pts: cl353Iso1Myr }, { name: '1kyr', style: 'dotted', pts: cl353Iso1kyr }, { name: '2 Myr', style: 'dashdot', pts: cl353Iso2Myr }],
    legend: [['1Myr', 'solid'], ['1kyr', 'dotted'], ['2 Myr', 'dashdot']],
  },
  {
    row: 2, col: 4, pts: cl245Pts, rows: [], err: cl245Err, vector: cl245Vector, title: [['Clean R=4\u2019', 602, 727]],
    isos: [{ name: '1 Myr', style: 'solid', pts: cl245Iso1Myr }, { name: '1 kyr', style: 'dotted', pts: cl245Iso1kyr }, { name: '2 Myr', style: 'dashed', pts: cl245Iso2Myr }, { name: '5 Myr', style: 'dashdot', pts: cl245Iso5Myr }],
    legend: [['1 Myr', 'solid'], ['1 kyr', 'dotted'], ['2 Myr', 'dashed'], ['5 Myr', 'dashdot']],
  },
];

// legend placement per column: line start, line end, text start
const LEGEND_X: [number, number, number][] = [[86, 110, 120], [227, 250, 260], [359, 380, 392], [499, 520, 532], [631, 655, 666]];

const toXY = (pts: Pt[], rows: Row[]) => {
  const out = pts.map(([x, y]) => ({ x, y }));
  rows.forEach(([y, xs]) => xs.forEach((x) => out.push({ x, y })));
  return out;
};

const DotShape = (p: any) => <circle cx={p.cx} cy={p.cy} r={4.3} fill="#000" />;
const NoShape = () => <g />;
const PlusShape = (p: any) => (
  <g stroke="#000" strokeWidth={1}>
    <line x1={p.cx - 4} x2={p.cx + 4} y1={p.cy} y2={p.cy} />
    <line x1={p.cx} x2={p.cx} y1={p.cy - 4} y2={p.cy + 4} />
  </g>
);

function makeTick(side: 'bottom' | 'top' | 'left' | 'right', labels: number[]) {
  return (props: any) => {
    const { x, y, payload } = props;
    const v = payload.value;
    const vertical = side === 'left' || side === 'right';
    const major = vertical ? v % 2 === 0 : Number.isInteger(v);
    const len = major ? 8 : 4.5;
    let x2 = x;
    let y2 = y;
    if (side === 'bottom') y2 = y - len;
    else if (side === 'top') y2 = y + len;
    else if (side === 'left') x2 = x + len;
    else x2 = x - len;
    const show = labels.indexOf(v) >= 0;
    return (
      <g>
        <line x1={x} y1={y} x2={x2} y2={y2} stroke="#000" strokeWidth={1.3} />
        {show && side === 'bottom' && (
          <text x={x} y={y + 21} textAnchor="middle" fontSize={18} fontFamily={FONT} fill="#000">{v}</text>
        )}
        {show && side === 'left' && (
          <text x={x - 5} y={y + 6} textAnchor="end" fontSize={18} fontFamily={FONT} fill="#000">{v}</text>
        )}
      </g>
    );
  };
}

function Panel({ cfg }: { cfg: PanelCfg }) {
  const { row, col } = cfg;
  const ml = col === 0 ? 44 : 14;
  const mr = 14;
  const mt = 16;
  const mb = row === 2 ? 48 : 14;
  const w = COL_W + ml + mr;
  const h = ROW_H + mt + mb;
  const dom = X_DOMAINS[col];
  const ticks = X_TICKS[col];
  const dots = toXY(cfg.pts, cfg.rows);
  const errDots = cfg.err.map(([x, y, ex, ey]) => ({ x, y, ex, ey }));
  return (
    <div style={{ position: 'absolute', left: COL_X[col] - ml, top: ROW_Y[row] - mt, width: w, height: h }}>
      <ScatterChart width={w} height={h} margin={{ top: mt - 1, right: mr - 1, bottom: mb - 1, left: ml - 1 }}>
        <XAxis
          xAxisId="b" orientation="bottom" type="number" dataKey="x" domain={dom} ticks={ticks} interval={0}
          allowDataOverflow height={1} tickSize={0} tickMargin={0} tickLine={false} axisLine={AXIS}
          tick={makeTick('bottom', row === 2 ? X_LABELS[col] : [])}
          label={row === 2 ? { value: '(J-Ks)', position: 'bottom', offset: 28, fontSize: 18, fontFamily: FONT, fill: '#000' } : undefined}
        />
        <XAxis
          xAxisId="t" orientation="top" type="number" domain={dom} ticks={ticks} interval={0}
          allowDataOverflow height={1} tickSize={0} tickMargin={0} tickLine={false} axisLine={AXIS}
          tick={makeTick('top', [])}
        />
        <YAxis
          yAxisId="l" orientation="left" type="number" dataKey="y" domain={[8, 17]} reversed ticks={jTicks} interval={0}
          allowDataOverflow width={1} tickSize={0} tickMargin={0} tickLine={false} axisLine={AXIS}
          tick={makeTick('left', col === 0 ? jTickLabels : [])}
          label={col === 0 ? { value: 'J', position: 'left', offset: 30, fontSize: 18, fontFamily: FONT, fill: '#000' } : undefined}
        />
        <YAxis
          yAxisId="r" orientation="right" type="number" domain={[8, 17]} reversed ticks={jTicks} interval={0}
          allowDataOverflow width={1} tickSize={0} tickMargin={0} tickLine={false} axisLine={AXIS}
          tick={makeTick('right', [])}
        />
        {(cfg.isos || []).map((iso) => (
          <Scatter
            key={iso.name + iso.style}
            name={iso.name}
            xAxisId="b" yAxisId="l"
            data={iso.pts.map(([x, y]) => ({ x, y }))}
            line={{ stroke: '#000', strokeWidth: 1, fill: 'none', strokeDasharray: DASH[iso.style] }}
            lineType="joint"
            shape={NoShape}
            isAnimationActive={false}
          />
        ))}
        {cfg.vector && (
          <Scatter
            name="vector" xAxisId="b" yAxisId="l"
            data={cfg.vector.map(([x, y]) => ({ x, y }))}
            line={{ stroke: '#000', strokeWidth: 1, fill: 'none' }}
            lineType="joint" shape={PlusShape} isAnimationActive={false}
          />
        )}
        <Scatter name="stars" xAxisId="b" yAxisId="l" data={dots} shape={DotShape} isAnimationActive={false} />
        <Scatter name="faint" xAxisId="b" yAxisId="l" data={errDots} shape={DotShape} isAnimationActive={false}>
          <ErrorBar dataKey="ex" direction="x" width={4} stroke="#000" strokeWidth={1} isAnimationActive={false} />
          <ErrorBar dataKey="ey" direction="y" width={4} stroke="#000" strokeWidth={1} isAnimationActive={false} />
        </Scatter>
      </ScatterChart>
    </div>
  );
}

function TextLayer() {
  return (
    <svg width={711} height={1097} style={{ position: 'absolute', left: 0, top: 0 }}>
      {panels.map((p) =>
        p.title.map(([t, x, y]) => (
          <text key={t + x + y} x={x} y={y} fontSize={p.row === 1 ? 17 : 17.5} fontFamily={FONT} fill="#000">{t}</text>
        ))
      )}
      {panels.map((p) =>
        (p.legend || []).map(([name, style], i) => {
          const [lx1, lx2, tx] = LEGEND_X[p.col];
          const cy = 741 + i * 12.4;
          return (
            <g key={p.col + name + i}>
              <line x1={lx1} x2={lx2} y1={cy} y2={cy} stroke="#000" strokeWidth={style === 'solid' ? 1.6 : 1.2} strokeDasharray={DASH[style]} />
              <text x={tx} y={cy + 4.3} fontSize={12.5} fontFamily={FONT} fill="#000">{name}</text>
            </g>
          );
        })
      )}
    </svg>
  );
}

export default function App() {
  return (
    <div style={{ position: 'absolute', left: 0, top: 0, width: 711, height: 1097, background: '#fff' }}>
      <TextLayer />
      {panels.map((p) => (
        <Panel key={`${p.row}-${p.col}`} cfg={p} />
      ))}
    </div>
  );
}
